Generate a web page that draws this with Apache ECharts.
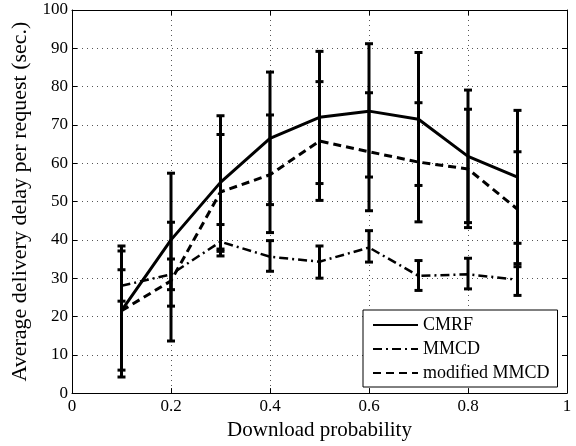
<!DOCTYPE html>
<html>
<head>
<meta charset="utf-8">
<script src="https://cdn.jsdelivr.net/npm/echarts@6/dist/echarts.min.js"></script>
<style>html,body{margin:0;padding:0;background:#fff}#c{width:576px;height:446px}</style>
</head>
<body>
<div id="c"></div>
<script>
var xs = [0.1, 0.2, 0.3, 0.4, 0.5, 0.6, 0.7, 0.8, 0.9];
var cmrf = [21.5, 40, 55, 66.5, 72, 73.6, 71.5, 61.8, 56.4];
var cmrfLow = [4.2, 22.7, 37.6, 49.2, 54.7, 56.4, 54.2, 44.5, 39.1];
var cmrfHigh = [38.4, 57.4, 72.4, 83.8, 89.2, 91.2, 88.9, 79.1, 73.8];
var mmcd = [28, 31, 39.5, 35.6, 34.3, 38, 30.6, 31, 29.6];
var mmcdLow = [24, 27, 35.8, 31.8, 30, 34.2, 26.8, 27.2, 25.5];
var mmcdHigh = [32.2, 35, 44, 39.8, 38.4, 42.4, 34.6, 35.2, 33.8];
var modMmcd = [21.5, 29.3, 52.5, 57, 65.8, 63, 60.3, 58.5, 48];
var modLow = [6.0, 13.6, 37, 41.9, 50.3, 47.6, 44.7, 43.2, 33];
var modHigh = [37.1, 44.6, 67.5, 72.6, 81.3, 78.4, 75.8, 74.1, 63];
var xTicks = ['0', '0.2', '0.4', '0.6', '0.8', '1'];

function pairs(ys) { return xs.map(function (x, i) { return [x, ys[i]]; }); }
function errs(lo, hi) { return xs.map(function (x, i) { return [x, lo[i], hi[i]]; }); }

var FONT = 'Liberation Serif';

function errorBar(params, api) {
  var x = api.value(0), lo = api.value(1), hi = api.value(2);
  var a = api.coord([x, lo]), b = api.coord([x, hi]);
  var w = 4;
  var st = { stroke: '#000', lineWidth: 3 };
  return {
    type: 'group',
    children: [
      { type: 'line', shape: { x1: a[0], y1: a[1], x2: b[0], y2: b[1] }, style: st },
      { type: 'line', shape: { x1: a[0] - w, y1: a[1], x2: a[0] + w, y2: a[1] }, style: st },
      { type: 'line', shape: { x1: b[0] - w, y1: b[1], x2: b[0] + w, y2: b[1] }, style: st }
    ]
  };
}

function errSeries(lo, hi) {
  return {
    type: 'custom', renderItem: errorBar, data: errs(lo, hi),
    encode: { x: 0, y: [1, 2] }, z: 3, silent: true
  };
}

var gridLine = { show: true, lineStyle: { color: '#555', type: [1, 4], width: 1 } };
var tickStyle = { show: true, inside: true, length: 5, lineStyle: { color: '#000', width: 1 } };

var chart = echarts.init(document.getElementById('c'), null, { renderer: 'canvas' });
chart.setOption({
  animation: false,
  backgroundColor: '#fff',
  grid: { left: 72, right: 9, top: 10, bottom: 50, show: false },
  xAxis: [{
    type: 'value', min: 0, max: 1, interval: 0.2,
    name: 'Download probability', nameLocation: 'middle', nameGap: 25,
    nameTextStyle: { fontFamily: FONT, fontSize: 21, color: '#000' },
    axisLine: { show: true, onZero: false, lineStyle: { color: '#000', width: 1 } },
    axisTick: tickStyle,
    axisLabel: { fontFamily: FONT, fontSize: 17, color: '#000', margin: 5,
      formatter: function (v) { return xTicks[Math.round(v / 0.2)]; } },
    splitLine: gridLine
  }, {
    type: 'value', min: 0, max: 1, interval: 0.2, position: 'top',
    axisLine: { show: true, onZero: false, lineStyle: { color: '#000', width: 1 } },
    axisTick: tickStyle, axisLabel: { show: false }, splitLine: { show: false }
  }],
  yAxis: [{
    type: 'value', min: 0, max: 100, interval: 10,
    name: 'Average delivery delay per request (sec.)', nameLocation: 'middle', nameGap: 36,
    nameTextStyle: { fontFamily: FONT, fontSize: 22, color: '#000' },
    axisLine: { show: true, onZero: false, lineStyle: { color: '#000', width: 1 } },
    axisTick: tickStyle,
    axisLabel: { fontFamily: FONT, fontSize: 17, color: '#000', margin: 4 },
    splitLine: gridLine
  }, {
    type: 'value', min: 0, max: 100, interval: 10, position: 'right',
    axisLine: { show: true, onZero: false, lineStyle: { color: '#000', width: 1 } },
    axisTick: tickStyle, axisLabel: { show: false }, splitLine: { show: false }
  }],
  legend: {
    orient: 'vertical', left: 363, top: 310,
    backgroundColor: '#fff', borderColor: '#000', borderWidth: 1,
    padding: [6, 8, 5, 9], itemGap: 6, itemWidth: 45, itemHeight: 18,
    itemStyle: { opacity: 0, borderWidth: 0, color: 'rgba(0,0,0,0)' },
    textStyle: { fontFamily: FONT, fontSize: 18, color: '#000' },
    data: ['CMRF', 'MMCD', 'modified MMCD']
  },
  series: [
    { name: 'CMRF', type: 'line', data: pairs(cmrf), symbol: 'none', z: 4,
      lineStyle: { color: '#000', width: 3, type: 'solid' }, itemStyle: { color: '#000' } },
    { name: 'MMCD', type: 'line', data: pairs(mmcd), symbol: 'none', z: 4,
      lineStyle: { color: '#000', width: 2.5, type: [9, 4, 2, 4] }, itemStyle: { color: '#000' } },
    { name: 'modified MMCD', type: 'line', data: pairs(modMmcd), symbol: 'none', z: 4,
      lineStyle: { color: '#000', width: 3, type: [8, 5] }, itemStyle: { color: '#000' } },
    errSeries(cmrfLow, cmrfHigh),
    errSeries(mmcdLow, mmcdHigh),
    errSeries(modLow, modHigh)
  ]
});
</script>
</body>
</html>
